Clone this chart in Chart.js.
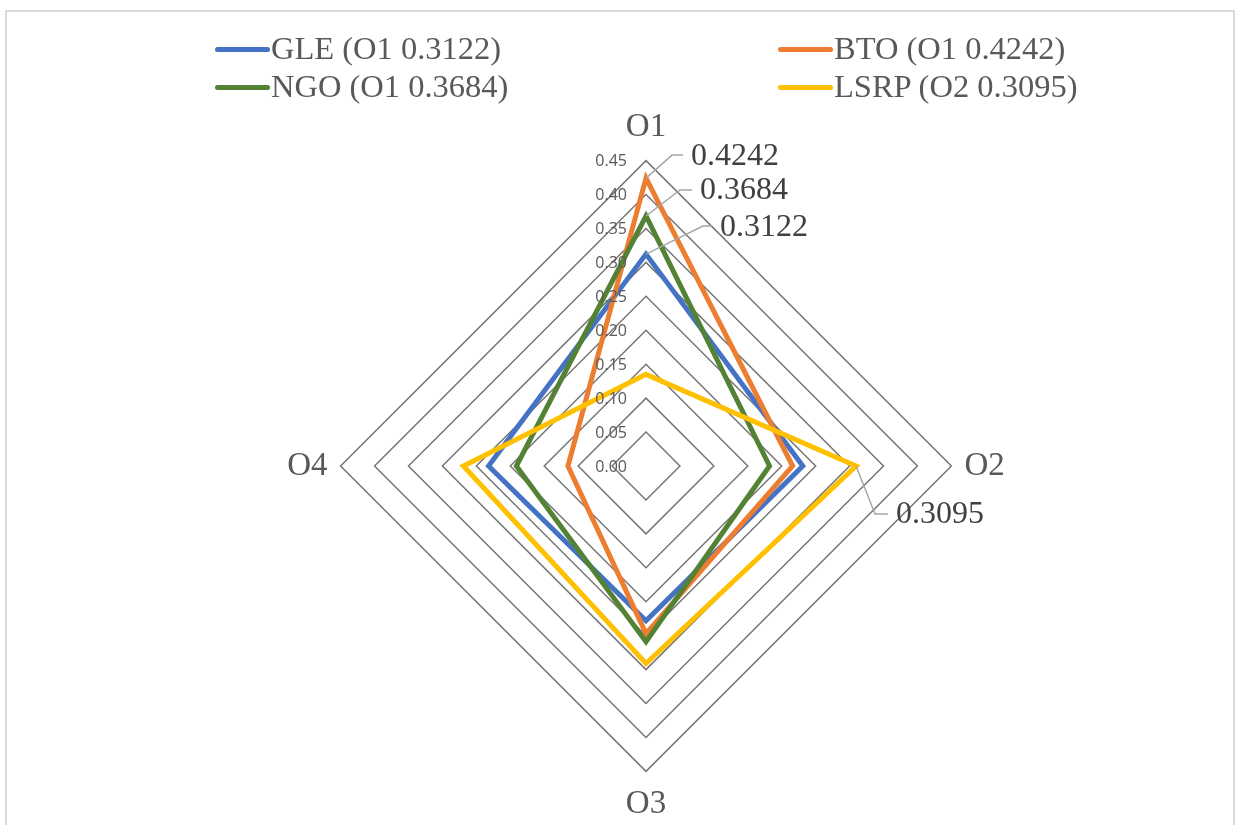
<!DOCTYPE html>
<html>
<head>
<meta charset="utf-8">
<script src="https://cdn.jsdelivr.net/npm/chart.js@4"></script>
<style>
  html, body { margin: 0; padding: 0; background: #fff; }
  #wrap { position: relative; width: 1243px; height: 825px; overflow: hidden; }
  #frame { position: absolute; left: 5px; top: 10px; width: 1230px; height: 840px; border: 2px solid #d9d9d9; box-sizing: border-box; }
  #chart { position: absolute; left: 0; top: 0; }
  .leg { position: absolute; font-family: "Liberation Serif", serif; font-size: 32.5px; color: #595959; line-height: 34px; white-space: nowrap; }
  .leg span.sw { display: inline-block; width: 55px; height: 5px; border-radius: 3px; vertical-align: middle; margin-right: 1px; position: relative; top: -2px; }
</style>
</head>
<body>
<div id="wrap">
  <div id="frame"></div>
  <canvas id="chart" width="1243" height="825"></canvas>
  <div id="legend"></div>
</div>
<script>
const categories = ['O1', 'O2', 'O3', 'O4'];
const seriesNames = ['GLE (O1 0.3122)', 'BTO (O1 0.4242)', 'NGO (O1 0.3684)', 'LSRP (O2 0.3095)'];
const gle = [0.3122, 0.231, 0.228, 0.232];
const bto = [0.4242, 0.216, 0.247, 0.115];
const ngo = [0.3684, 0.182, 0.259, 0.191];
const lsrp = [0.135, 0.3095, 0.291, 0.269];
const tickValues = [0, 0.05, 0.10, 0.15, 0.20, 0.25, 0.30, 0.35, 0.40, 0.45];
const colors = ['#4472C4', '#ED7D31', '#548235', '#FFC000'];

// labels with leader lines: [dataset, point, elbow dx, elbow dy, tail length]
const callouts = [
  [1, 0, 26, -23, 11],
  [2, 0, 34, -26, 12],
  [0, 0, 57, -28, 9],
  [3, 1, 19, 48, 13]
];

// legend, two columns
const legendPos = [[215, 31], [778, 31], [215, 69], [778, 69]];
const legendEl = document.getElementById('legend');
seriesNames.forEach((name, i) => {
  const d = document.createElement('div');
  d.className = 'leg';
  d.style.left = legendPos[i][0] + 'px';
  d.style.top = legendPos[i][1] + 'px';
  d.innerHTML = '<span class="sw" style="background:' + colors[i] + '"></span>' + name;
  legendEl.appendChild(d);
});

const tickPlugin = {
  id: 'tickPlugin',
  afterDatasetsDraw(chart) {
    const scale = chart.scales.r;
    const ctx = chart.ctx;
    ctx.save();
    ctx.font = '16px "Open Sans", sans-serif';
    ctx.fillStyle = '#595959';
    ctx.textAlign = 'right';
    ctx.textBaseline = 'middle';
    tickValues.forEach(v => {
      const d = scale.getDistanceFromCenterForValue(v);
      ctx.fillText(v.toFixed(2), scale.xCenter - 19, scale.yCenter - d + 1);
    });
    ctx.restore();
  }
};

const calloutPlugin = {
  id: 'calloutPlugin',
  afterDatasetsDraw(chart) {
    const ctx = chart.ctx;
    ctx.save();
    callouts.forEach(([ds, idx, dx, dy, tail]) => {
      const pt = chart.getDatasetMeta(ds).data[idx];
      const val = chart.data.datasets[ds].data[idx];
      const ex = pt.x + dx, ey = pt.y + dy;
      ctx.strokeStyle = '#a6a6a6';
      ctx.lineWidth = 1.5;
      ctx.beginPath();
      ctx.moveTo(pt.x, pt.y);
      ctx.lineTo(ex, ey);
      ctx.lineTo(ex + tail, ey);
      ctx.stroke();
      ctx.font = '32px "Liberation Serif", serif';
      ctx.fillStyle = '#404040';
      ctx.textAlign = 'left';
      ctx.textBaseline = 'middle';
      ctx.fillText(val.toFixed(4), ex + tail + 8, ey + 1);
    });
    ctx.restore();
  }
};

const data = {
  labels: categories,
  datasets: [
    { label: seriesNames[0], data: gle, borderColor: colors[0], order: 4 },
    { label: seriesNames[1], data: bto, borderColor: colors[1], order: 3 },
    { label: seriesNames[2], data: ngo, borderColor: colors[2], order: 2 },
    { label: seriesNames[3], data: lsrp, borderColor: colors[3], order: 1 }
  ]
};
data.datasets.forEach(d => {
  d.borderWidth = 5;
  d.fill = false;
  d.pointRadius = 0;
  d.pointHoverRadius = 0;
  d.borderJoinStyle = 'miter';
});

new Chart(document.getElementById('chart'), {
  type: 'radar',
  data: data,
  options: {
    responsive: false,
    animation: false,
    layout: { padding: { left: 226, right: 177, top: 108, bottom: 0 } },
    plugins: { legend: { display: false }, tooltip: { enabled: false } },
    scales: {
      r: {
        min: 0,
        max: 0.45,
        ticks: { stepSize: 0.05, display: false },
        angleLines: { display: false },
        grid: { color: '#767676', lineWidth: 1.5 },
        pointLabels: {
          padding: 13,
          color: '#595959',
          font: { family: 'Liberation Serif', size: 33 }
        }
      }
    }
  },
  plugins: [tickPlugin, calloutPlugin]
});
</script>
</body>
</html>
